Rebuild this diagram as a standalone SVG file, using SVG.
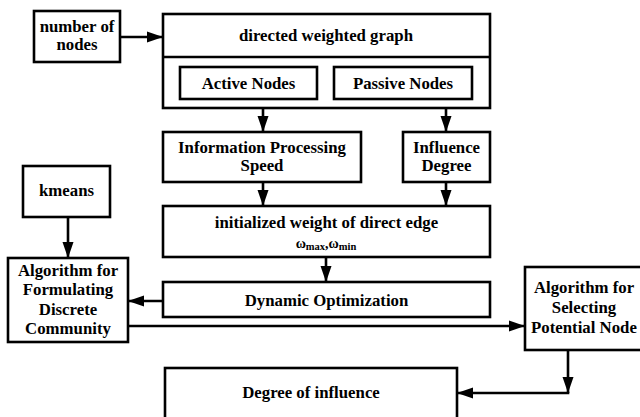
<svg xmlns="http://www.w3.org/2000/svg" width="640" height="417" viewBox="0 0 640 417">
  <style>
    .box { fill: #fff; stroke: #000; stroke-width: 2.6; }
    .line { fill: none; stroke: #000; stroke-width: 2.6; }
    .sub { font-size: 10.5px; }
    .om { font-size: 14px; }
  </style>
  <defs>
    <marker id="arrow" markerUnits="userSpaceOnUse" markerWidth="17" markerHeight="12" refX="16" refY="6" orient="auto">
      <path d="M0,0.5 L16,6 L0,11.5 z" fill="#000"/>
    </marker>
  </defs>
  <rect width="640" height="417" fill="#fff"/>

  <g id="connectors">
    <line class="line" x1="120" y1="37" x2="163" y2="37" marker-end="url(#arrow)"/>
    <line class="line" x1="263" y1="108" x2="263" y2="132" marker-end="url(#arrow)"/>
    <line class="line" x1="446" y1="108" x2="446" y2="132" marker-end="url(#arrow)"/>
    <line class="line" x1="263" y1="182" x2="263" y2="206" marker-end="url(#arrow)"/>
    <line class="line" x1="446" y1="182" x2="446" y2="206" marker-end="url(#arrow)"/>
    <line class="line" x1="68" y1="217" x2="68" y2="258" marker-end="url(#arrow)"/>
    <line class="line" x1="326" y1="257" x2="326" y2="282" marker-end="url(#arrow)"/>
    <line class="line" x1="163" y1="301" x2="128" y2="301" marker-end="url(#arrow)"/>
    <line class="line" x1="128" y1="326" x2="525" y2="326" marker-end="url(#arrow)"/>
    <line class="line" x1="568" y1="350" x2="568" y2="393" marker-end="url(#arrow)"/>
    <line class="line" x1="569.3" y1="393" x2="457" y2="393" marker-end="url(#arrow)"/>
  </g>

  <g font-family="Liberation Serif, Times New Roman, serif" font-weight="bold" font-size="16.8" text-anchor="middle" fill="#000">
    <g id="number-of-nodes">
      <rect class="box" x="34" y="11" width="86" height="51"/>
      <text x="77" y="32">number of</text>
      <text x="77" y="50">nodes</text>
    </g>

    <g id="directed-weighted-graph">
      <rect class="box" x="163" y="14" width="327" height="94"/>
      <line class="line" x1="163" y1="57" x2="490" y2="57"/>
      <text x="326" y="41">directed weighted graph</text>
    </g>

    <g id="active-nodes">
      <rect class="box" x="180" y="67" width="137" height="32"/>
      <text x="248.5" y="88.5">Active Nodes</text>
    </g>

    <g id="passive-nodes">
      <rect class="box" x="334" y="67" width="138" height="32"/>
      <text x="403" y="88.5">Passive Nodes</text>
    </g>

    <g id="information-processing-speed">
      <rect class="box" x="163" y="132" width="198" height="50"/>
      <text x="262" y="153">Information Processing</text>
      <text x="262" y="171">Speed</text>
    </g>

    <g id="influence-degree">
      <rect class="box" x="403" y="132" width="87" height="50"/>
      <text x="446.5" y="153">Influence</text>
      <text x="446.5" y="171">Degree</text>
    </g>

    <g id="kmeans">
      <rect class="box" x="23" y="166" width="87" height="51"/>
      <text x="66.5" y="196">kmeans</text>
    </g>

    <g id="initialized-weight">
      <rect class="box" x="163" y="206" width="327" height="51"/>
      <text x="326.5" y="228">initialized weight of direct edge</text>
      <text x="326" y="247.5"><tspan class="om">ω</tspan><tspan class="sub" dy="2">max</tspan><tspan class="om" dy="-2">,ω</tspan><tspan class="sub" dy="2">min</tspan></text>
    </g>

    <g id="formulating-discrete-community">
      <rect class="box" x="8" y="258" width="120" height="84"/>
      <text x="68" y="276">Algorithm for</text>
      <text x="68" y="295">Formulating</text>
      <text x="68" y="315">Discrete</text>
      <text x="68" y="334">Community</text>
    </g>

    <g id="dynamic-optimization">
      <rect class="box" x="163" y="282" width="327" height="35"/>
      <text x="326.5" y="305.5">Dynamic Optimization</text>
    </g>

    <g id="selecting-potential-node">
      <rect class="box" x="525" y="267" width="120" height="83"/>
      <text x="584" y="293">Algorithm for</text>
      <text x="584" y="313">Selecting</text>
      <text x="584" y="333">Potential Node</text>
    </g>

    <g id="degree-of-influence">
      <rect class="box" x="165" y="368" width="292" height="60"/>
      <text x="311" y="398">Degree of influence</text>
    </g>
  </g>
</svg>
